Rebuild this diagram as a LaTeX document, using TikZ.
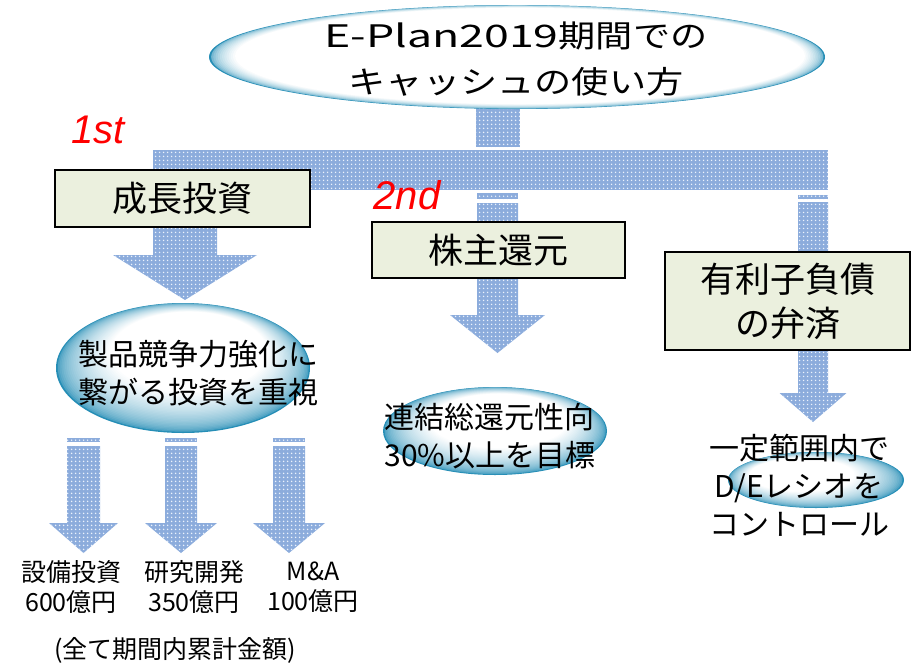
\documentclass[tikz,border=0pt]{standalone}
\usepackage{fontspec}
\setmainfont{Noto Sans CJK JP}
\newfontfamily\titlefont{Noto Sans CJK JP}[FakeStretch=1.2]
\newfontfamily\ordfont{Liberation Sans}
\usetikzlibrary{shapes.geometric,patterns.meta,calc}
\definecolor{arrowblue}{RGB}{140,172,220}
\definecolor{dotwhite}{RGB}{235,242,252}
\definecolor{boxfill}{RGB}{235,240,222}
\definecolor{deepteal}{RGB}{38,142,182}
\newcommand{\blockarrow}[6]{%
  \path[arrowfill] (#1-#5,#2) -- (#1+#5,#2) -- (#1+#5,#3) -- (#1+#6,#3) -- (#1,#4) -- (#1-#6,#3) -- (#1-#5,#3) -- cycle;}
\newcommand{\shaftpiece}[4]{%
  \path[arrowfill] (#1,#2) rectangle (#3,#4);}
% glowing oval: cx cy rx ry ox oy smin N exponent
\newcommand{\glowoval}[9]{%
  \foreach \k in {0,...,#8}{%
    \pgfmathsetmacro\gs{1-(\k/#8)*(1-#7)}%
    \pgfmathsetmacro\gp{100*(\k/#8)^#9}%
    \pgfmathsetmacro\gx{#1+(\k/#8)*#5}%
    \pgfmathsetmacro\gy{#2+(\k/#8)*#6}%
    \pgfmathsetmacro\grx{#3*\gs}%
    \pgfmathsetmacro\gry{#4*\gs}%
    \fill[white!\gp!deepteal] (\gx,\gy) ellipse [x radius=\grx pt, y radius=\gry pt];
  }}
\tikzset{
  arrowfill/.style={preaction={fill=arrowblue}, pattern={Dots[distance=4pt,radius=0.95pt]}, pattern color=dotwhite},
  boxstyle/.style={draw=black, line width=2.5pt, fill=boxfill, inner sep=0pt, font=\fontsize{35}{44}\selectfont, align=center},
  ordstyle/.style={text=red, font=\ordfont\itshape\fontsize{40}{44}\selectfont, inner sep=0pt},
  ovaltext/.style={font=\fontsize{30}{38}\selectfont, inner sep=0pt},
  labelstyle/.style={font=\fontsize{25}{30}\selectfont, align=center, inner sep=0pt}
}
\begin{document}
\begin{tikzpicture}[x=1pt,y=-1pt]
\useasboundingbox (0,0) rectangle (912,664);
% trunk and bar
\shaftpiece{476}{95}{520}{147}
\shaftpiece{153}{150}{828}{190}
% left branch
\blockarrow{185}{150}{255}{300}{32}{72}
% middle branch
\shaftpiece{477}{193}{518}{199}
\blockarrow{497.5}{203}{315}{353}{20.5}{47.5}
% right branch
\shaftpiece{798}{195}{828}{199}
\blockarrow{813}{202}{393}{422}{15}{33.5}
% small arrows
\shaftpiece{67}{438}{100}{442}
\blockarrow{83.5}{446}{523}{553}{16.5}{34.5}
\shaftpiece{165}{438}{197}{442}
\blockarrow{181}{446}{523}{553}{16}{36}
\shaftpiece{273}{438}{305}{442}
\blockarrow{289}{446}{523}{553}{16}{36}
% title
\glowoval{517}{57}{308}{52}{3}{-1}{0.925}{12}{0.4}
\coordinate (titleoval) at (517,57);
\node[font=\titlefont\fontsize{31}{46}\selectfont, align=center, inner sep=0pt] (titletext) at (516,59) {\scalebox{1.2}[1]{E-Plan2019}期間での\\キャッシュの使い方};
% boxes
\node[boxstyle, minimum width=255pt, minimum height=57pt] (grow) at (182.5,198.5) {成長投資};
\node[boxstyle, minimum width=253pt, minimum height=56pt] (share) at (498.5,250) {株主還元};
\node[boxstyle, minimum width=245pt, minimum height=98pt] (debt) at (787.5,301) {有利子負債\\の弁済};
% ordinals
\node[ordstyle] (first) at (98,130) {1st};
\node[ordstyle] (second) at (407,195) {2nd};
% ovals
\glowoval{183}{368}{127}{65}{6}{-16}{0.62}{30}{0.5}
\coordinate (oval1) at (183,368);
\node[ovaltext, align=center] (oval1text) at (198,373) {製品競争力強化に\\繋がる投資を重視};
\glowoval{495}{431}{112}{44}{4}{-10}{0.62}{30}{0.5}
\coordinate (oval2) at (495,431);
\node[ovaltext, align=left] (oval2text) at (490,436) {連結総還元性向\\30\%以上を目標};
\glowoval{816}{480}{88}{28}{-14}{-5}{0.6}{30}{0.5}
\coordinate (oval3) at (816,480);
\node[ovaltext, align=center] (oval3text) at (799,485) {一定範囲内で\\D/Eレシオを\\コントロール};
% labels
\node[labelstyle] (lab1) at (71,587) {設備投資\\600億円};
\node[labelstyle] (lab2) at (194,587) {研究開発\\350億円};
\node[labelstyle] (lab3) at (313,587) {M\&A\\100億円};
\node[labelstyle] (note) at (175,650) {(全て期間内累計金額)};
\end{tikzpicture}
\end{document}
